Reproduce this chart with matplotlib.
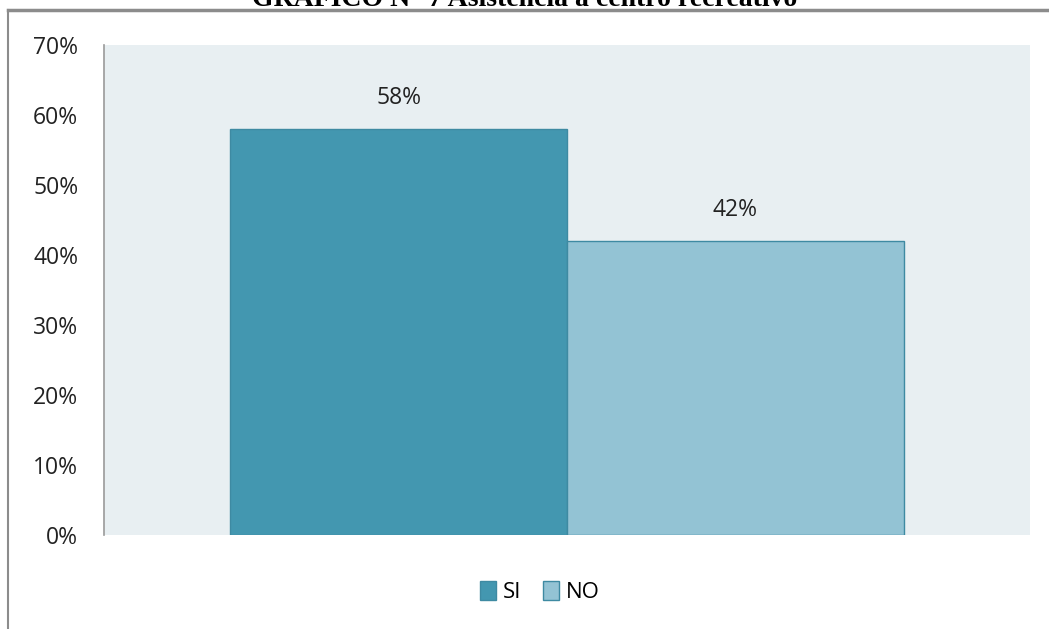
import matplotlib.pyplot as plt
from matplotlib.lines import Line2D
from matplotlib.patches import Patch

# data
series = ["SI", "NO"]
values = [58, 42]
colors = ["#4397B0", "#93C3D4"]
yticks = [0, 10, 20, 30, 40, 50, 60, 70]
title = "GRAFICO N° 7 Asistencia a centro recreativo"

W, H = 1049, 629
fig = plt.figure(figsize=(W / 100, H / 100), dpi=100)
ax = fig.add_axes([104 / W, 1 - 535 / H, 926 / W, 490 / H])
ax.set_facecolor("#E8EFF2")

font = "Open Sans"
bw = 0.3635
offsets = [-bw / 2, bw / 2]
for s, v, c, off in zip(series, values, colors, offsets):
    ax.bar(off, v, width=bw, color=c, edgecolor="#3E8AA2", linewidth=1, label=s, zorder=2)
    ax.text(off, v + 2.7, f"{v}%", ha="center", va="bottom", fontsize=16.5, family=font, color="#222222")

ax.set_xlim(-0.5, 0.5)
ax.set_ylim(0, 70)
ax.set_yticks(yticks)
ax.set_yticklabels([f"{t}%" for t in yticks], family=font, fontsize=16.5, color="#222222")
ax.set_xticks([])
ax.tick_params(axis="y", length=0, pad=18.5)
for sp in ["top", "right", "bottom"]:
    ax.spines[sp].set_visible(False)
ax.spines["left"].set_color("#9a9a9a")
ax.spines["left"].set_linewidth(1.2)

handles = [Patch(facecolor=c, edgecolor="#3E8AA2", label=s) for s, c in zip(series, colors)]
fig.legend(handles=handles, loc="center", bbox_to_anchor=(540 / W, 1 - 592 / H), ncol=2,
           frameon=False, handlelength=0.7, handleheight=0.9, handletextpad=0.3,
           columnspacing=1.0, prop={"family": font, "size": 16})

# clipped title and page border lines
fig.text(0.5, 1 - 6 / H, title, ha="center", va="baseline", fontsize=20,
         fontweight="bold", family="Liberation Serif")
fig.add_artist(Line2D([8 / W, 1], [1 - 10 / H, 1 - 10 / H], color="#8c8c8c", lw=2.5))
fig.add_artist(Line2D([8 / W, 8 / W], [1 - 10 / H, 0], color="#8c8c8c", lw=1.5))

fig.savefig("out.png", dpi=100)
